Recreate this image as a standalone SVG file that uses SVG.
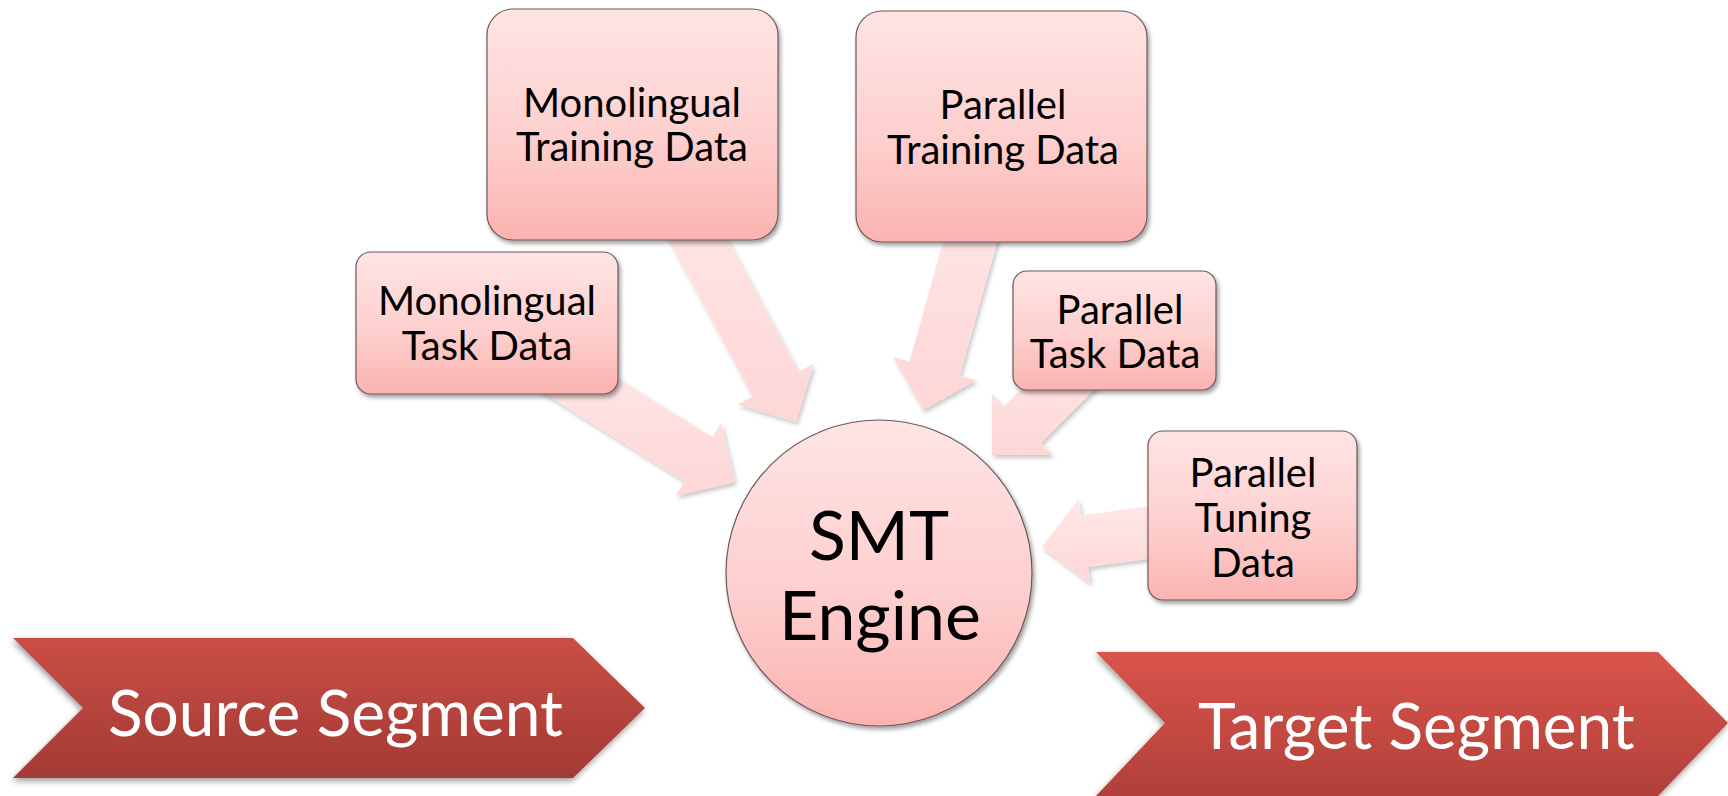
<svg xmlns="http://www.w3.org/2000/svg" width="1728" height="796" viewBox="0 0 1728 796">
  <defs>
    <linearGradient id="nodeFill" x1="0" y1="0" x2="0" y2="1">
      <stop offset="0" stop-color="#fee4e4"/>
      <stop offset="0.55" stop-color="#fdd0cf"/>
      <stop offset="1" stop-color="#fbb3b0"/>
    </linearGradient>
    <linearGradient id="arrowFill" x1="0" y1="0" x2="0" y2="1">
      <stop offset="0" stop-color="#ffeaea"/>
      <stop offset="1" stop-color="#fed6d6"/>
    </linearGradient>
    <linearGradient id="sourceFill" x1="0" y1="0" x2="0" y2="1">
      <stop offset="0" stop-color="#c94e46"/>
      <stop offset="1" stop-color="#a33a33"/>
    </linearGradient>
    <linearGradient id="targetFill" x1="0" y1="0" x2="0" y2="1">
      <stop offset="0" stop-color="#da544b"/>
      <stop offset="1" stop-color="#b0403a"/>
    </linearGradient>
    <filter id="shadow" x="-10%" y="-10%" width="125%" height="130%">
      <feDropShadow dx="2" dy="3" stdDeviation="2.2" flood-color="#000" flood-opacity="0.38"/>
    </filter>
    <filter id="arrowShadow" x="-10%" y="-10%" width="125%" height="125%">
      <feDropShadow dx="2" dy="3" stdDeviation="2" flood-color="#000" flood-opacity="0.22"/>
    </filter>
    <filter id="bandShadow" x="-5%" y="-10%" width="110%" height="130%">
      <feDropShadow dx="-1" dy="3" stdDeviation="3" flood-color="#000" flood-opacity="0.4"/>
    </filter>
  </defs>
  <style>
    .node { fill: url(#nodeFill); stroke: #6f5858; stroke-width: 1.2; filter: url(#shadow); }
    .arrow { fill: url(#arrowFill); filter: url(#arrowShadow); }
    .label { font-family: Lato, "Liberation Sans", sans-serif; fill: #000; text-anchor: middle; font-size: 40px; }
    .big { font-size: 68px; }
    .band { font-family: Lato, "Liberation Sans", sans-serif; fill: #fff; font-size: 64px; }
  </style>

  <rect width="1728" height="796" fill="#fff"/>

  <!-- block arrows feeding the engine -->
  <g id="connectors">
    <polygon class="arrow" points="500.7,366.3 684.7,481.3 675.7,495.7 735,482 721.3,422.7 712.3,437.2 528.3,322.2"/>
    <polygon class="arrow" points="631.2,170 752.8,396.4 737.8,404.4 796,422 813.6,363.8 798.6,371.8 677,145.4"/>
    <polygon class="arrow" points="973.6,133.4 909.6,361.6 893.2,357 923,410 976,380.2 959.6,375.6 1023.6,147.4"/>
    <polygon class="arrow" points="1086.7,323.5 1004,406.2 992,394.2 992,455 1052.8,455 1040.8,443 1123.5,360.3"/>
    <polygon class="arrow" points="1256.5,491.7 1081.1,515.4 1078.8,498.6 1042,547 1090.4,583.8 1088.1,567 1263.5,543.3"/>
  </g>

  <g id="mono-training">
    <rect class="node" x="487" y="9" width="291" height="231" rx="26"/>
    <text class="label" x="632" y="117">Monolingual</text>
    <text class="label" x="632" y="161">Training Data</text>
  </g>

  <g id="mono-task">
    <rect class="node" x="356" y="252" width="262" height="142" rx="15"/>
    <text class="label" x="487" y="315">Monolingual</text>
    <text class="label" x="487" y="360">Task Data</text>
  </g>

  <g id="parallel-training">
    <rect class="node" x="856" y="11" width="291" height="231" rx="26"/>
    <text class="label" x="1003" y="119">Parallel</text>
    <text class="label" x="1003" y="164">Training Data</text>
  </g>

  <g id="parallel-task">
    <rect class="node" x="1013" y="271" width="203" height="119" rx="14"/>
    <text class="label" x="1120" y="324">Parallel</text>
    <text class="label" x="1115" y="368">Task Data</text>
  </g>

  <g id="parallel-tuning">
    <rect class="node" x="1148" y="431" width="209" height="169" rx="15"/>
    <text class="label" x="1253" y="487">Parallel</text>
    <text class="label" x="1253" y="532">Tuning</text>
    <text class="label" x="1253" y="577">Data</text>
  </g>

  <g id="smt-engine">
    <circle class="node" cx="879" cy="573" r="153"/>
    <text class="label big" x="879" y="560">SMT</text>
    <text class="label big" x="880" y="640">Engine</text>
  </g>

  <g id="source-segment">
    <polygon points="13,638 573,638 645,708 573,778 13,778 83,708" fill="url(#sourceFill)" filter="url(#bandShadow)"/>
    <text class="band" x="108" y="736">Source Segment</text>
  </g>

  <g id="target-segment">
    <polygon points="1096,652 1658,652 1728,723 1658,796 1096,796 1165,723" fill="url(#targetFill)" filter="url(#bandShadow)"/>
    <text class="band" x="1198" y="749">Target Segment</text>
  </g>
</svg>
